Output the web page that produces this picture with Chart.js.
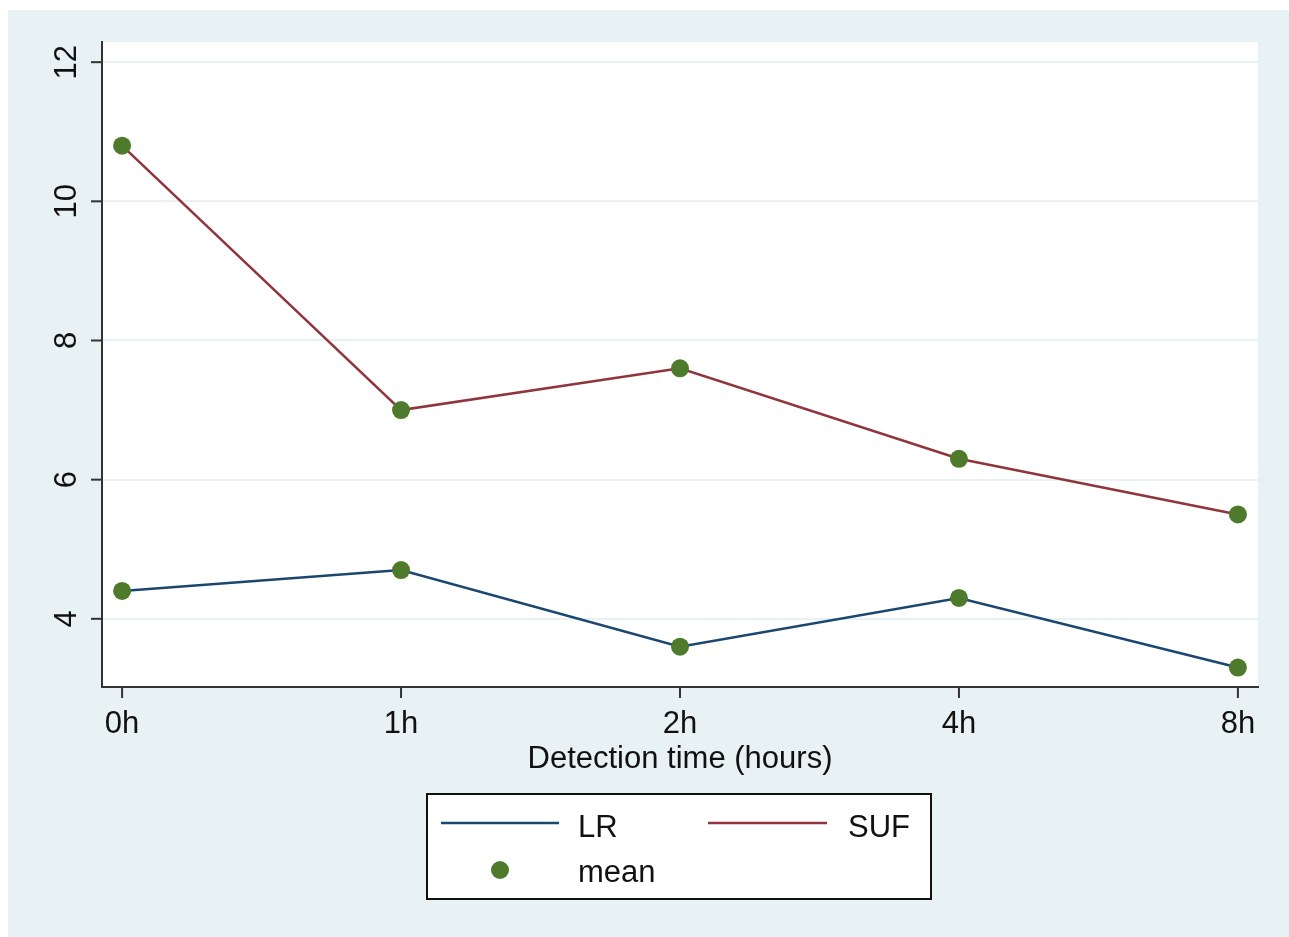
<!DOCTYPE html>
<html>
<head>
<meta charset="utf-8">
<script src="https://cdn.jsdelivr.net/npm/chart.js@4.4.1/dist/chart.umd.min.js"></script>
<style>
  html, body { margin: 0; padding: 0; background: #ffffff; }
  canvas { display: block; }
</style>
</head>
<body>
<canvas id="timeChart" width="1289" height="937"></canvas>
<script>
// data
var categories = ['0h', '1h', '2h', '4h', '8h'];
var lrValues = [4.4, 4.7, 3.6, 4.3, 3.3];
var sufValues = [10.8, 7.0, 7.6, 6.3, 5.5];
var yTicks = [4, 6, 8, 10, 12];

var FONT = '"Liberation Sans", Arial, Helvetica, sans-serif';
var LR_COLOR = '#1a476f';
var SUF_COLOR = '#90353b';
var MEAN_COLOR = '#4d7b2b';
var FRAME_BG = '#e8f1f3';

function toPoints(values) {
    return values.map(function(v, i) { return { x: i, y: v }; });
}

// Stata-like frame, ticks, labels and legend
var stataLook = {
    id: 'stataLook',
    beforeDraw: function(chart) {
        var ctx = chart.ctx;
        var a = chart.chartArea;
        ctx.save();
        ctx.fillStyle = '#ffffff';
        ctx.fillRect(0, 0, chart.width, chart.height);
        ctx.fillStyle = FRAME_BG;
        ctx.fillRect(8, 10, chart.width - 8, chart.height - 10);
        ctx.fillStyle = '#ffffff';
        ctx.fillRect(a.left, a.top, a.right - a.left, a.bottom - a.top);
        ctx.restore();
    },
    afterDraw: function(chart) {
        var ctx = chart.ctx;
        var a = chart.chartArea;
        var xs = chart.scales.x;
        var ys = chart.scales.y;
        ctx.save();
        ctx.strokeStyle = '#333333';
        ctx.lineWidth = 2;
        ctx.fillStyle = '#111111';

        // y ticks + rotated labels
        ctx.font = '31px ' + FONT;
        ctx.textAlign = 'center';
        ctx.textBaseline = 'alphabetic';
        yTicks.forEach(function(v) {
            var py = ys.getPixelForValue(v);
            ctx.beginPath();
            ctx.moveTo(a.left - 11, py);
            ctx.lineTo(a.left, py);
            ctx.stroke();
            ctx.save();
            ctx.translate(76, py);
            ctx.rotate(-Math.PI / 2);
            ctx.fillText(String(v), 0, 0);
            ctx.restore();
        });

        // x ticks + labels
        categories.forEach(function(c, i) {
            var px = xs.getPixelForValue(i);
            ctx.beginPath();
            ctx.moveTo(px, a.bottom);
            ctx.lineTo(px, a.bottom + 11);
            ctx.stroke();
            ctx.fillText(c, px, 733);
        });

        // x axis title
        ctx.fillText('Detection time (hours)', (a.left + a.right) / 2, 768);

        // legend box
        var lx = 427, ly = 794, lw = 504, lh = 105;
        ctx.fillStyle = '#ffffff';
        ctx.fillRect(lx, ly, lw, lh);
        ctx.strokeStyle = '#111111';
        ctx.lineWidth = 2;
        ctx.strokeRect(lx, ly, lw, lh);

        ctx.lineWidth = 2.5;
        ctx.strokeStyle = LR_COLOR;
        ctx.beginPath();
        ctx.moveTo(441, 823);
        ctx.lineTo(559, 823);
        ctx.stroke();
        ctx.strokeStyle = SUF_COLOR;
        ctx.beginPath();
        ctx.moveTo(708, 823);
        ctx.lineTo(827, 823);
        ctx.stroke();
        ctx.fillStyle = MEAN_COLOR;
        ctx.beginPath();
        ctx.arc(500, 870, 9, 0, Math.PI * 2);
        ctx.fill();

        ctx.fillStyle = '#111111';
        ctx.textAlign = 'left';
        ctx.fillText('LR', 578, 837);
        ctx.fillText('SUF', 848, 837);
        ctx.fillText('mean', 578, 882);
        ctx.restore();
    }
};

var ctx = document.getElementById('timeChart').getContext('2d');

var myChart = new Chart(ctx, {
    type: 'line',
    data: {
        datasets: [{
            label: 'LR',
            data: toPoints(lrValues),
            borderColor: LR_COLOR,
            borderWidth: 2.5,
            pointRadius: 9,
            pointBackgroundColor: MEAN_COLOR,
            pointBorderColor: MEAN_COLOR,
            pointBorderWidth: 0,
            tension: 0
        }, {
            label: 'SUF',
            data: toPoints(sufValues),
            borderColor: SUF_COLOR,
            borderWidth: 2.5,
            pointRadius: 9,
            pointBackgroundColor: MEAN_COLOR,
            pointBorderColor: MEAN_COLOR,
            pointBorderWidth: 0,
            tension: 0
        }]
    },
    options: {
        responsive: false,
        animation: false,
        layout: {
            padding: { left: 102, top: 42, right: 31, bottom: 250 }
        },
        scales: {
            x: {
                type: 'linear',
                min: -0.072,
                max: 4.072,
                afterBuildTicks: function(scale) {
                    scale.ticks = categories.map(function(c, i) { return { value: i }; });
                },
                afterFit: function(scale) { scale.height = 0; },
                grid: { display: false },
                border: { display: true, color: '#333333', width: 2 },
                ticks: { display: false }
            },
            y: {
                type: 'linear',
                min: 3.02,
                max: 12.29,
                afterBuildTicks: function(scale) {
                    scale.ticks = yTicks.map(function(v) { return { value: v }; });
                },
                afterFit: function(scale) { scale.width = 0; },
                grid: { color: FRAME_BG, lineWidth: 2, drawTicks: false },
                border: { display: true, color: '#333333', width: 2 },
                ticks: { display: false }
            }
        },
        plugins: {
            legend: { display: false },
            tooltip: { enabled: false }
        }
    },
    plugins: [stataLook]
});
</script>
</body>
</html>
